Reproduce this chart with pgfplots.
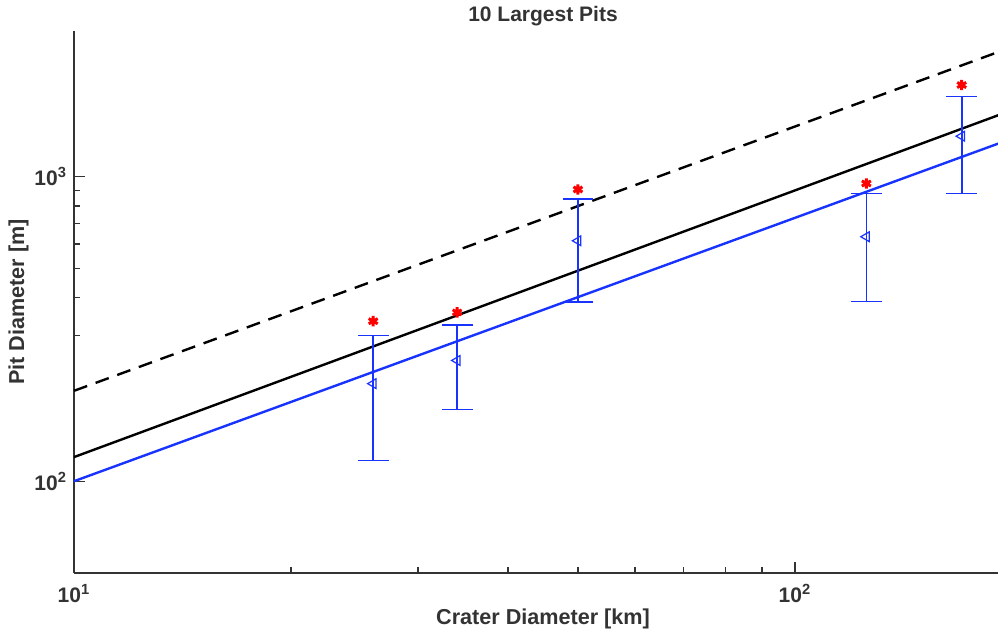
\documentclass[border=0pt]{standalone}
\usepackage{fontspec}
\setmainfont{Liberation Sans}
\usepackage{pgfplots}
\pgfplotsset{compat=1.18}
\usetikzlibrary{calc}

\definecolor{axgray}{gray}{0.2}
\definecolor{mblue}{rgb}{0.1,0.2,1}

% pits: crater diameter, mean pit diameter
\pgfplotstableread{
x    y
26.0 209
34.0 249
50.0 615
125.6 634
170.3 1355
}\pits

\pgfplotstableread{
x     y
26.0  335
34.0  358
50.0  906
125.6 948
170.3 1995
}\maxpits

\begin{document}
\begin{tikzpicture}
\begin{axis}[
name=ax,
scale only axis,
width=469pt,height=271pt,
xmode=log,ymode=log,
xmin=10,xmax=200,ymin=50,ymax=3000,
axis x line*=bottom,axis y line*=left,
axis line style={axgray,line width=0.7pt,-},
tick style={axgray,line width=0.6pt},
tick align=inside,
major tick length=5.5pt,minor tick length=2.8pt,
xtick={10,100},xticklabels={10\textsuperscript{1},10\textsuperscript{2}},
ytick={100,1000},yticklabels={10\textsuperscript{2},10\textsuperscript{3}},
tick label style={font=\fontsize{10.5}{12}\selectfont\bfseries,text=axgray},
xticklabel style={yshift=-2pt},
title={10 Largest Pits},
title style={font=\fontsize{10.5}{12}\selectfont\bfseries,text=axgray,yshift=-7pt},
xlabel={Crater Diameter [km]},
ylabel={Pit Diameter [m]},
label style={font=\fontsize{10.8}{12}\selectfont\bfseries,text=axgray},
xlabel style={yshift=3.5pt},
ylabel shift=-4pt,
clip=false,
]
% fitted power laws (endpoints)
\addplot[black,line width=1.2pt,dash pattern=on 7pt off 4.5pt] coordinates {(10,198) (200,2659)};
\addplot[black,line width=1.2pt] coordinates {(10,120) (200,1650)};
\addplot[mblue,line width=1.2pt] coordinates {(10,100) (200,1331)};
% error bars (low/high bounds)
\addplot[mblue,line width=0.8pt,mark=-,mark size=7.7pt,mark options={draw=mblue,solid,line width=0.8pt},unbounded coords=jump] coordinates {
(26.0,117) (26.0,301) (26.0,nan)
(34.0,172) (34.0,326) (34.0,nan)
(50.0,387) (50.0,843) (50.0,nan)
(125.6,389) (125.6,879) (125.6,nan)
(170.3,879) (170.3,1828)
};
\addplot[only marks,mblue,mark=triangle,mark size=2.8pt,mark options={rotate=90,line width=0.6pt}]
  table[x=x,y=y]{\pits};
\addplot[only marks,red,mark=asterisk,mark size=2.6pt,mark options={line width=1.5pt}]
  table[x=x,y=y]{\maxpits};
\end{axis}
\pgfresetboundingbox
\path ($(ax.south west)+(-37pt,-29.5pt)$) rectangle ($(ax.south west)+(462pt,286.5pt)$);
\end{tikzpicture}
\end{document}
